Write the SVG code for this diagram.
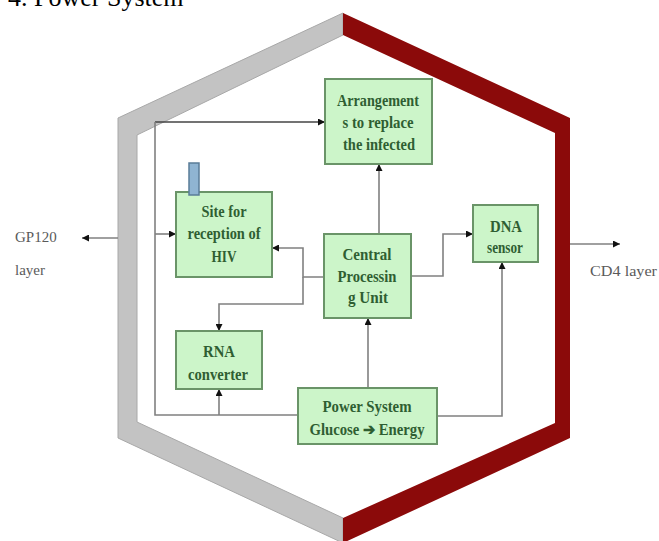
<svg xmlns="http://www.w3.org/2000/svg" width="659" height="541" viewBox="0 0 659 541">
<style>
.box{fill:#ccf5c9;stroke:#6a9468;stroke-width:2}
.bt{font-family:"Liberation Serif","Times New Roman",serif;font-weight:bold;font-size:16px;fill:#2f5e32;text-anchor:middle}
.lbl{font-family:"Liberation Serif","Times New Roman",serif;font-size:15px;fill:#5a5a5a}
.c{fill:none;stroke:#808080;stroke-width:1.6}
.cd{fill:none;stroke:#444;stroke-width:1.6}
</style>
<defs>
<marker id="ah" viewBox="0 0 10 10" refX="10" refY="5" markerWidth="7" markerHeight="7" markerUnits="userSpaceOnUse" orient="auto">
<path d="M0,0 L10,5 L0,10 z" fill="#111"/>
</marker>
</defs>
<rect width="659" height="541" fill="#fff"/>
<text x="8" y="6" font-family="Liberation Serif,serif" font-size="26" fill="#000">4. Power System</text>
<g id="membrane">
<polygon points="343,13 118,118 118,438 343,543 343,518 137,422 137,135 343,35" fill="#c3c3c3" stroke="#a8a8a8" stroke-width="1"/>
<polygon points="343,13 570,118 570,438 343,543 343,518 555,423 555,133 343,35" fill="#8b0a0a"/>
</g>
<g id="connectors">
<path class="cd" d="M155,122 H325" marker-end="url(#ah)"/>
<path class="c" d="M298,415 H155 V122"/>
<path class="c" d="M155,234 H176" marker-end="url(#ah)"/>
<path class="c" d="M219,415 V389" marker-end="url(#ah)"/>
<path class="c" d="M379,234 V164" marker-end="url(#ah)"/>
<path class="c" d="M368,388 V318" marker-end="url(#ah)"/>
<path class="c" d="M411,276 H443 V234 H473" marker-end="url(#ah)"/>
<path class="c" d="M324,277 H303 V248 H272" marker-end="url(#ah)"/>
<path class="c" d="M303,277 V304 H219 V331" marker-end="url(#ah)"/>
<path class="c" d="M437,416 H502 V262" marker-end="url(#ah)"/>
<path class="c" d="M118,238 H82" marker-end="url(#ah)"/>
<path class="c" d="M570,244 H620" marker-end="url(#ah)"/>
</g>
<g id="arrangement">
<rect class="box" x="325" y="79" width="107" height="85"/>
<text class="bt" x="378" y="106" textLength="82" lengthAdjust="spacingAndGlyphs">Arrangement</text>
<text class="bt" x="378" y="128" textLength="71" lengthAdjust="spacingAndGlyphs">s to replace</text>
<text class="bt" x="379" y="150" textLength="72" lengthAdjust="spacingAndGlyphs">the infected</text>
</g>
<g id="site">
<rect class="box" x="176" y="192" width="96" height="85"/>
<text class="bt" x="224" y="217" textLength="45" lengthAdjust="spacingAndGlyphs">Site for</text>
<text class="bt" x="224" y="239" textLength="73" lengthAdjust="spacingAndGlyphs">reception of</text>
<text class="bt" x="224" y="262" textLength="25" lengthAdjust="spacingAndGlyphs">HIV</text>
</g>
<g id="receptor">
<rect x="189" y="163" width="10" height="32" fill="#8fb4d2" stroke="#5a7c98" stroke-width="1.5"/>
</g>
<g id="cpu">
<rect class="box" x="324" y="234" width="87" height="84"/>
<text class="bt" x="367" y="260" textLength="49" lengthAdjust="spacingAndGlyphs">Central</text>
<text class="bt" x="367" y="282" textLength="59" lengthAdjust="spacingAndGlyphs">Processin</text>
<text class="bt" x="368" y="303" textLength="40" lengthAdjust="spacingAndGlyphs">g Unit</text>
</g>
<g id="dna">
<rect class="box" x="473" y="205" width="65" height="57"/>
<text class="bt" x="506" y="232" textLength="32" lengthAdjust="spacingAndGlyphs">DNA</text>
<text class="bt" x="505" y="253" textLength="36" lengthAdjust="spacingAndGlyphs">sensor</text>
</g>
<g id="rna">
<rect class="box" x="176" y="331" width="86" height="58"/>
<text class="bt" x="219" y="357" textLength="32" lengthAdjust="spacingAndGlyphs">RNA</text>
<text class="bt" x="218" y="380" textLength="60" lengthAdjust="spacingAndGlyphs">converter</text>
</g>
<g id="power">
<rect class="box" x="298" y="388" width="139" height="56"/>
<text class="bt" x="367" y="412" textLength="89" lengthAdjust="spacingAndGlyphs">Power System</text>
<text class="bt" x="367" y="435" textLength="115" lengthAdjust="spacingAndGlyphs">Glucose ➔ Energy</text>
</g>
<g id="gp120">
<text class="lbl" x="15" y="242">GP120</text>
<text class="lbl" x="15" y="275">layer</text>
</g>
<g id="cd4">
<text class="lbl" x="590" y="276" textLength="67" lengthAdjust="spacingAndGlyphs">CD4  layer</text>
</g>
</svg>
